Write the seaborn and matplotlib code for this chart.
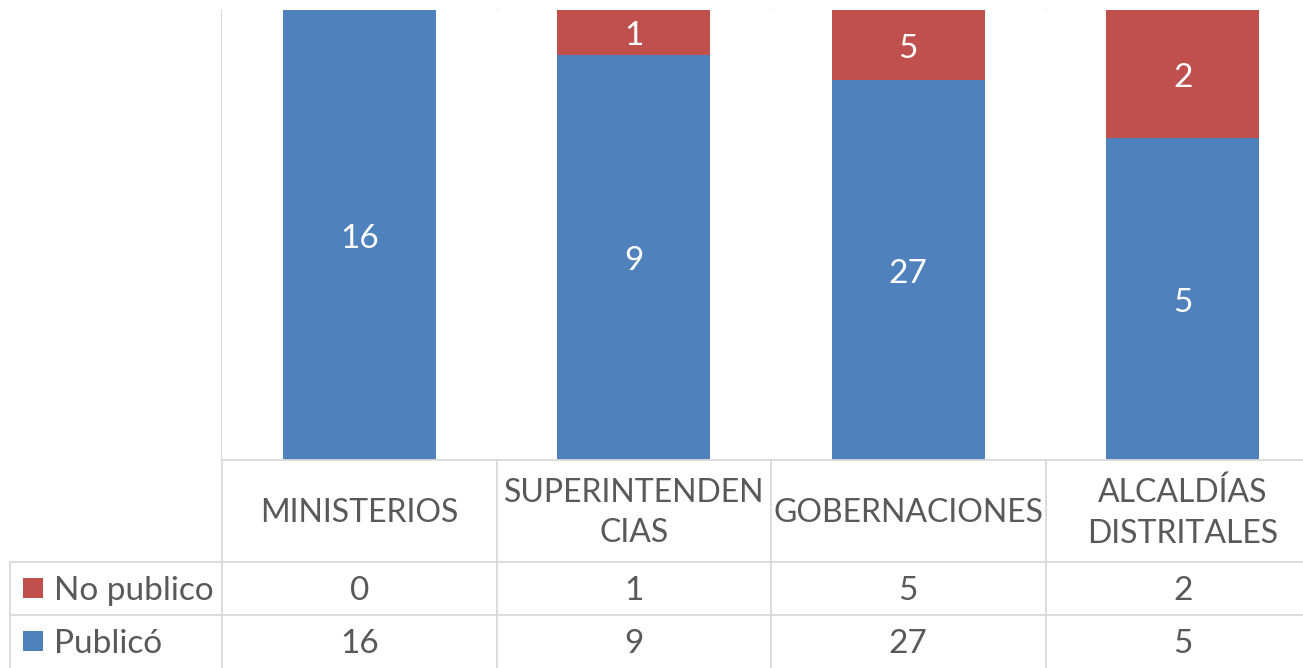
import numpy as np
import pandas as pd
import matplotlib
matplotlib.use("Agg")
import matplotlib.pyplot as plt
import matplotlib.transforms as mtransforms
from matplotlib.patches import Rectangle
import seaborn as sns

# Categories and counts per series
categorias = ["MINISTERIOS", "SUPERINTENDENCIAS", "GOBERNACIONES", "ALCALDÍAS DISTRITALES"]
etiquetas_eje = ["MINISTERIOS", "SUPERINTENDEN\nCIAS", "GOBERNACIONES", "ALCALDÍAS\nDISTRITALES"]
publico = [16, 9, 27, 5]
no_publico = [0, 1, 5, 2]
series = ["No publico", "Publicó"]

AZUL = "#4F81BD"
ROJO = "#C0504D"
TEXTO = "#595959"
LINEA = "#D9D9D9"

sns.set_theme(style="white")
plt.rcParams["font.family"] = ["Lato", "DejaVu Sans"]

W, H = 1303, 668
fig = plt.figure(figsize=(W / 100, H / 100), dpi=100)

# plot area in pixel coordinates
x0, x1 = 222, 1320
y_top, y_bot = 9.5, 460
ax = fig.add_axes([x0 / W, (H - y_bot) / H, (x1 - x0) / W, (y_bot - y_top) / H])

df = pd.DataFrame({"categoria": categorias, "publico": publico, "no_publico": no_publico})
total = df["publico"] + df["no_publico"]
df["p_pub"] = df["publico"] / total
df["p_no"] = df["no_publico"] / total

sns.barplot(data=df, x="categoria", y="p_pub", color=AZUL, width=0.557,
            saturation=1, ax=ax, linewidth=0)
sns.barplot(data=df, x="categoria", y="p_no", bottom=df["p_pub"].values, color=ROJO,
            width=0.557, saturation=1, ax=ax, linewidth=0)

fs = 24
fs_cat = 23

# value labels centred in each segment
for cont, vals in zip(ax.containers, [publico, no_publico]):
    for rect, v in zip(cont, vals):
        if v == 0:
            continue
        cx = rect.get_x() + rect.get_width() / 2
        cy = rect.get_y() + rect.get_height() / 2
        ax.annotate(str(v), (cx, cy), xytext=(0, -3), textcoords="offset points",
                    ha="center", va="center", color="white", fontsize=fs)

ax.set_xlim(-0.5, 3.5)
ax.set_ylim(0, 1)
ax.set_xlabel("")
ax.set_ylabel("")
ax.set_xticks([])
ax.set_yticks([])
for s in ax.spines.values():
    s.set_visible(False)


def ypx(y):
    """Figure fraction for a pixel row measured from the top."""
    return (H - y) / H


# x in data units, y in figure fraction
tr = mtransforms.blended_transform_factory(ax.transData, fig.transFigure)
trf = fig.transFigure

# vertical grid / table column lines
for xb in [-0.5, 0.5, 1.5, 2.5]:
    fig.add_artist(plt.Line2D([xb, xb], [ypx(y_top), ypx(H)], transform=tr,
                              color=LINEA, lw=1.3, zorder=0))

# horizontal table lines
fig.add_artist(plt.Line2D([x0 / W, 1], [ypx(y_bot), ypx(y_bot)], transform=trf,
                          color=LINEA, lw=1.3))
for yy in [562, 615]:
    fig.add_artist(plt.Line2D([10 / W, 1], [ypx(yy), ypx(yy)], transform=trf,
                              color=LINEA, lw=1.3))
fig.add_artist(plt.Line2D([10 / W, 10 / W], [ypx(562), ypx(H)], transform=trf,
                          color=LINEA, lw=1.3))

# category labels row
for i, lab in enumerate(etiquetas_eje):
    fig.text(i, ypx(513), lab, transform=tr, ha="center", va="center", color=TEXTO,
             fontsize=fs_cat, linespacing=1.45)

# data rows with legend keys
filas = [(series[0], ROJO, no_publico, 588), (series[1], AZUL, publico, 641)]
for nombre, col, vals, yc in filas:
    fig.add_artist(Rectangle((23 / W, ypx(yc + 10)), 20 / W, 20 / H, transform=trf,
                             facecolor=col, edgecolor="none"))
    fig.text(54 / W, ypx(yc + 3), nombre, ha="left", va="center", color=TEXTO, fontsize=fs)
    for i, v in enumerate(vals):
        fig.text(i, ypx(yc + 3), str(v), transform=tr, ha="center", va="center",
                 color=TEXTO, fontsize=fs)

fig.savefig("out.png", dpi=100)
